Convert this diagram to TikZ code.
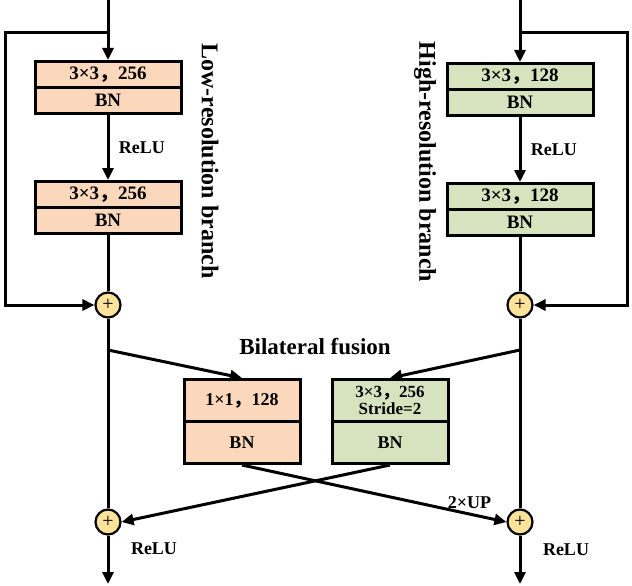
\documentclass[tikz,border=0pt]{standalone}
\usepackage{fontspec}
\setmainfont{Liberation Serif}
\newfontfamily\cjk{Noto Sans CJK SC}
\newcommand{\fc}{{\cjk\bfseries ，}}
\usetikzlibrary{arrows.meta}
\definecolor{org}{HTML}{FBD7BC}
\definecolor{grn}{HTML}{D7E3BE}
\definecolor{yel}{HTML}{FCE29A}
\begin{document}
\begin{tikzpicture}[x=1pt,y=-1pt,font=\bfseries\fontsize{19}{20}\selectfont,
 line width=3pt, >={Triangle[length=12pt,width=11pt]},
 cell/.style={draw,minimum width=146pt,minimum height=26pt,inner sep=0pt,anchor=north},
 fcell/.style={draw,minimum width=116pt,minimum height=42pt,inner sep=0pt,anchor=north,align=center,font=\bfseries\fontsize{18}{18}\selectfont},
 sum/.style={draw,circle,fill=yel,minimum size=25pt,inner sep=0pt,line width=2.2pt,font=\fontsize{20}{20}\selectfont},
 lab/.style={font=\bfseries\fontsize{18}{18}\selectfont}]
\useasboundingbox (0,0) rectangle (632,586);
% left branch
\node[cell,fill=org] (l1a) at (108,60) {3×3\fc 256};
\node[cell,fill=org] (l1b) at (108,86) {BN};
\node[cell,fill=org] (l2a) at (108,180) {3×3\fc 256};
\node[cell,fill=org] (l2b) at (108,206) {BN};
\node[sum] (ls) at (108,305) {+};
\coordinate (lt) at (108,0);
\coordinate (lj) at (108,33);
\draw[->] (lt) -- (l1a.north);
\draw[->] (l1b.south) -- node[right=6pt,lab]{ReLU} (l2a.north);
\draw (l2b.south) -- (ls.north);
\draw[->] (lj) -- (5,33) -- (5,305) -- (ls.west);
\node[rotate=-90,font=\bfseries\fontsize{24}{24}\selectfont] (lbt) at (210,161) {Low-resolution branch};
% right branch
\node[cell,fill=grn] (r1a) at (520,62) {3×3\fc 128};
\node[cell,fill=grn] (r1b) at (520,88) {BN};
\node[cell,fill=grn] (r2a) at (520,182) {3×3\fc 128};
\node[cell,fill=grn] (r2b) at (520,208) {BN};
\node[sum] (rs) at (520,305) {+};
\coordinate (rt) at (520,0);
\coordinate (rj) at (520,33);
\draw[->] (rt) -- (r1a.north);
\draw[->] (r1b.south) -- node[right=6pt,lab]{ReLU} (r2a.north);
\draw (r2b.south) -- (rs.north);
\draw[->] (rj) -- (627,33) -- (627,305) -- (rs.east);
\node[rotate=-90,font=\bfseries\fontsize{24}{24}\selectfont] (rbt) at (425,162) {High-resolution branch};
% fusion
\node[font=\bfseries\fontsize{23}{23}\selectfont] (bf) at (315,347) {Bilateral fusion};
\node[fcell,fill=org] (fla) at (242,378) {1×1\fc 128};
\node[fcell,fill=org] (flb) at (242,420) {BN};
\node[fcell,fill=grn,font=\bfseries\fontsize{17}{17}\selectfont] (fra) at (390,378) {3×3\fc 256\\Stride=2};
\node[fcell,fill=grn] (frb) at (390,420) {BN};
\node[sum] (lo) at (108,522) {+};
\node[sum] (ro) at (520,522) {+};
\coordinate (lm) at (108,350);
\coordinate (rm) at (520,350);
\draw (ls.south) -- (lo.north);
\draw (rs.south) -- (ro.north);
\draw[->] (lm) -- (fla.north);
\draw[->] (rm) -- (fra.north);
\draw[->] (flb.south) -- node[pos=0.86,above=1pt,lab]{2×UP} (ro.west);
\draw[->] (frb.south) -- (lo.east);
\coordinate (le) at (108,584);
\coordinate (re) at (520,584);
\draw[->] (lo.south) -- (le);
\draw[->] (ro.south) -- (re);
\node[lab] (lrl) at (154,549) {ReLU};
\node[lab] (rrl) at (566,550) {ReLU};
\end{tikzpicture}
\end{document}
